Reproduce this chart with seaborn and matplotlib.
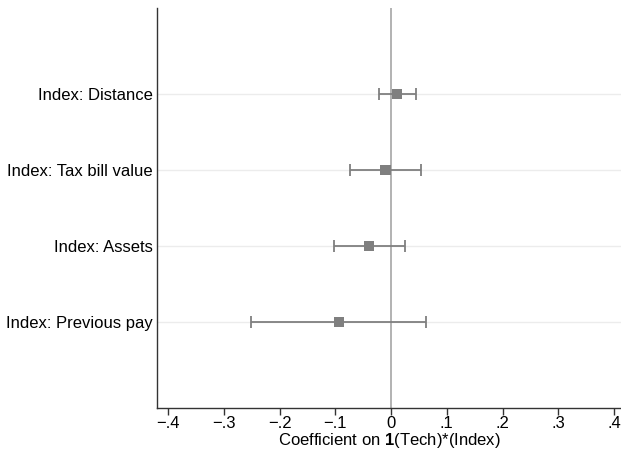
import matplotlib
matplotlib.use("Agg")
import matplotlib.pyplot as plt
import seaborn as sns
import pandas as pd

# Estimates and 95% confidence bounds for each index interaction
labels = ["Index: Distance", "Index: Tax bill value", "Index: Assets", "Index: Previous pay"]
coef = [0.010, -0.010, -0.039, -0.094]
ci_low = [-0.022, -0.073, -0.103, -0.251]
ci_high = [0.044, 0.054, 0.025, 0.063]

xticks = [-0.4, -0.3, -0.2, -0.1, 0.0, 0.1, 0.2, 0.3, 0.4]
xticklabels = ["\u2212.4", "\u2212.3", "\u2212.2", "\u2212.1", "0", ".1", ".2", ".3", ".4"]

sns.set_theme(style="white")
plt.rcParams["font.family"] = ["Liberation Sans", "DejaVu Sans"]
plt.rcParams["mathtext.fontset"] = "custom"
plt.rcParams["mathtext.rm"] = "Liberation Sans"
plt.rcParams["mathtext.bf"] = "Liberation Sans:bold"

df = pd.DataFrame({"label": labels, "coef": coef, "lo": ci_low, "hi": ci_high})
df["pos"] = range(1, len(df) + 1)

fig = plt.figure(figsize=(6.21, 4.54), dpi=100)
ax = fig.add_axes([0.2528, 0.1013, 0.7472, 0.8811])

gray = "#7f7f7f"
for p in df["pos"]:
    ax.axhline(p, color="#ececec", lw=1.0, zorder=0)
ax.axvline(0, color="#a6a6a6", lw=1.2, zorder=1)

ax.errorbar(df["coef"], df["pos"],
            xerr=[df["coef"] - df["lo"], df["hi"] - df["coef"]],
            fmt="none", ecolor=gray, elinewidth=1.3, capsize=4, capthick=1.3, zorder=2)
sns.scatterplot(data=df, x="coef", y="pos", marker="s", s=55, color=gray,
                edgecolor="none", ax=ax, zorder=3)

ax.set_xlim(-0.42, 0.4125)
ax.set_ylim(5.13, -0.13)
ax.set_yticks(df["pos"])
ax.set_yticklabels(df["label"], fontsize=12, color="black")
ax.set_xticks(xticks)
ax.set_xticklabels(xticklabels, fontsize=12, color="black")
ax.set_ylabel("")
ax.set_xlabel(r"Coefficient on $\mathbf{1}$(Tech)*(Index)", fontsize=12, color="black", labelpad=0)

ax.tick_params(axis="x", which="major", direction="out", length=5, width=1, color="#333333", pad=1, bottom=True)
ax.tick_params(axis="y", length=0, pad=3)

for side in ["top", "right"]:
    ax.spines[side].set_visible(False)
for side in ["left", "bottom"]:
    ax.spines[side].set_color("#333333")
    ax.spines[side].set_linewidth(1.0)

fig.savefig("out.png", dpi=100, facecolor="white")
